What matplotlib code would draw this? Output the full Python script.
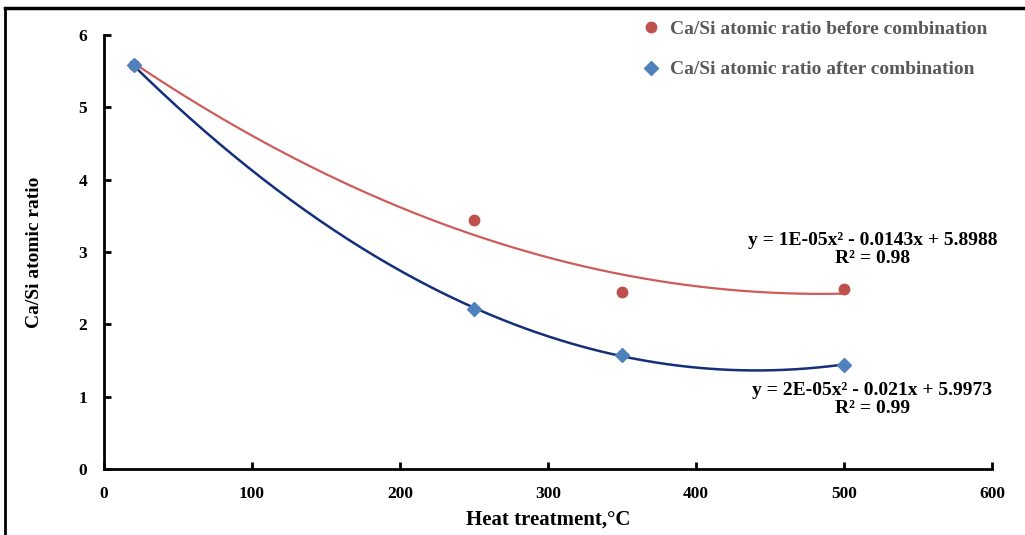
import numpy as np
import matplotlib
matplotlib.use("Agg")
import matplotlib.pyplot as plt
from matplotlib.lines import Line2D

# data
temp = [20, 250, 350, 500]
ratio_before = [5.58, 3.44, 2.45, 2.49]
ratio_after = [5.58, 2.21, 1.58, 1.44]

eq_before = "y = 1E-05x² - 0.0143x + 5.8988\nR² = 0.98"
eq_after = "y = 2E-05x² - 0.021x + 5.9973\nR² = 0.99"

plt.rcParams["font.family"] = ["Liberation Serif", "DejaVu Serif"]
plt.rcParams["font.weight"] = "bold"

fig = plt.figure(figsize=(10.25, 5.35), dpi=100)
ax = fig.add_axes([0.1015, 0.1234, 0.8665, 0.8112])

# polynomial trendlines (order 2), like Excel
xs = np.linspace(min(temp), max(temp), 200)
p_before = np.polyfit(temp, ratio_before, 2)
p_after = np.polyfit(temp, ratio_after, 2)
ax.plot(xs, np.polyval(p_before, xs), color="#CD5C5A", lw=1.6, zorder=2)
ax.plot(xs, np.polyval(p_after, xs), color="#14307A", lw=1.8, zorder=2)

h1, = ax.plot(temp, ratio_before, "o", color="#C0504D", markersize=7.5,
              ls="none", zorder=3, label="Ca/Si atomic ratio before combination")
h2, = ax.plot(temp, ratio_after, "D", color="#4F81BD", markersize=7,
              ls="none", zorder=3, label="Ca/Si atomic ratio after combination")

ax.text(519, 3.03, eq_before, ha="center", va="center", fontsize=14,
        fontweight="bold", linespacing=1.05)
ax.text(519, 0.96, eq_after, ha="center", va="center", fontsize=14,
        fontweight="bold", linespacing=1.05)

ax.set_xlim(0, 600)
ax.set_ylim(0, 6)
ax.set_xticks(range(0, 601, 100))
ax.set_yticks(range(0, 7))
ax.spines["top"].set_visible(False)
ax.spines["right"].set_visible(False)
for s in ("left", "bottom"):
    ax.spines[s].set_linewidth(2)
ax.tick_params(direction="in", length=5, width=2, labelsize=12.5, pad=12)
for lab in ax.get_xticklabels() + ax.get_yticklabels():
    lab.set_fontweight("bold")

ax.set_xlabel("Heat treatment,°C", fontsize=15, fontweight="bold", labelpad=6)
ax.set_ylabel("Ca/Si atomic ratio", fontsize=14, fontweight="bold", labelpad=26)

leg = ax.legend(handles=[h1, h2], loc="upper left", bbox_to_anchor=(0.585, 1.075),
                frameon=False, fontsize=14, handletextpad=0.5, labelspacing=1.2,
                handlelength=1.0)
for t in leg.get_texts():
    t.set_color("#595959")
    t.set_fontweight("bold")

# outer frame (left and top edges only)
fig.add_artist(Line2D([5 / 1025, 5 / 1025], [0, 1 - 8 / 535], color="black", lw=2))
fig.add_artist(Line2D([5 / 1025, 1], [1 - 8 / 535, 1 - 8 / 535], color="black", lw=2.5))

fig.savefig("out.png", dpi=100)
